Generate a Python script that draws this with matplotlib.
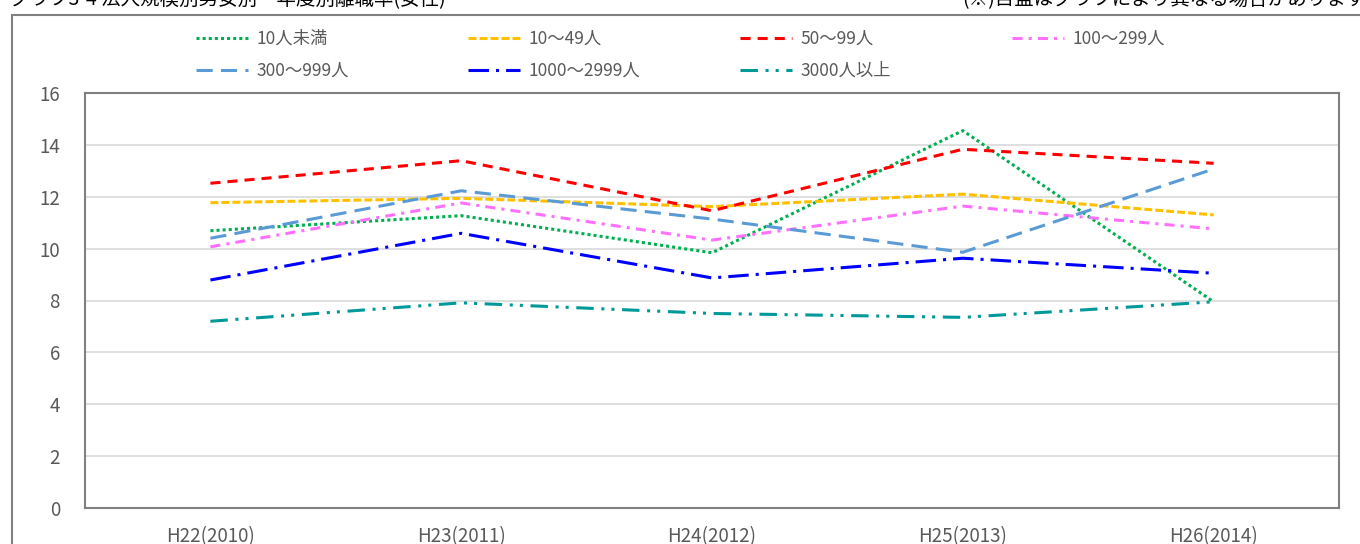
import matplotlib
matplotlib.use("Agg")
import matplotlib.pyplot as plt
from matplotlib.patches import Rectangle

plt.rcParams['font.family'] = ['Noto Sans CJK JP', 'DejaVu Sans']

# data
years = ["H22(2010)", "H23(2011)", "H24(2012)", "H25(2013)", "H26(2014)"]
labels = ["10人未満", "10〜49人", "50〜99人", "100〜299人",
          "300〜999人", "1000〜2999人", "3000人以上"]
s_lt10 = [10.69, 11.27, 9.84, 14.55, 7.95]
s_10_49 = [11.77, 11.94, 11.62, 12.10, 11.30]
s_50_99 = [12.52, 13.39, 11.46, 13.83, 13.29]
s_100_299 = [10.07, 11.76, 10.33, 11.64, 10.76]
s_300_999 = [10.40, 12.23, 11.14, 9.86, 13.07]
s_1000_2999 = [8.79, 10.59, 8.87, 9.63, 9.05]
s_3000 = [7.20, 7.91, 7.50, 7.35, 7.95]

series = [s_lt10, s_10_49, s_50_99, s_100_299, s_300_999, s_1000_2999, s_3000]
colors = ["#00B050", "#FFC000", "#FF0000", "#FF70FF", "#5B9BD5", "#0000FF", "#009999"]
styles = [(0, (1, 1)), (0, (2.6, 1.0)), (0, (3.3, 2.3)), (0, (3.3, 2, 1, 2)),
          (0, (5.3, 2.7)), (0, (6.7, 2.3, 1, 2.3)), (0, (5.7, 2.5, 1, 2.3, 1, 2.5))]

fig = plt.figure(figsize=(13.6, 5.44), dpi=100)
ax = fig.add_axes([85 / 1360, 1 - 508 / 544, (1339 - 85) / 1360, (508 - 93) / 544])

x = list(range(len(years)))
lines = []
for ys, c, ls, lab in zip(series, colors, styles, labels):
    ln, = ax.plot(x, ys, color=c, linestyle=ls, lw=2.2, label=lab,
                  dash_capstyle='butt')
    lines.append(ln)

ax.set_xlim(-0.5, 4.5)
ax.set_ylim(0, 16)
ax.set_yticks(range(0, 17, 2))
ax.set_xticks(x)
ax.set_xticklabels(years)
ax.grid(axis='y', color='#D9D9D9', lw=1.2)
ax.set_axisbelow(True)
for sp in ax.spines.values():
    sp.set_color('#808080')
    sp.set_linewidth(1.5)
ax.tick_params(length=0, labelsize=13.5, colors='#595959')
ax.tick_params(axis='y', pad=18)
ax.tick_params(axis='x', pad=13)

# legend: one block per column
col_x = [196, 468, 740, 1012]
for i, cx in enumerate(col_x):
    idx = [j for j in (i, i + 4) if j < len(lines)]
    fig.legend([lines[j] for j in idx], [labels[j] for j in idx],
               loc='upper left', bbox_to_anchor=(cx / 1360, 1 - 30 / 544),
               frameon=False, fontsize=12.5, handlelength=3.0, handletextpad=0.5,
               borderpad=0, borderaxespad=0, labelspacing=0.8,
               labelcolor='#595959')

# outer chart frame
fig.patches.append(Rectangle((12 / 1360, -0.1), 1.2, 1.1 - 15 / 544,
                             transform=fig.transFigure, fill=False,
                             edgecolor='#808080', lw=1.5))

# titles sit partly above the top edge, as in the reference
fig.text(10 / 1360, 1 - 0 / 544, "グラフ3-4 法人規模別男女別・年度別離職率(女性)",
         fontsize=14, va='center', ha='left', color='black')
fig.text(1365 / 1360, 1 - 0 / 544, "(※)目盛はグラフにより異なる場合があります",
         fontsize=14, va='center', ha='right', color='black')

fig.savefig("out.png", dpi=100)
